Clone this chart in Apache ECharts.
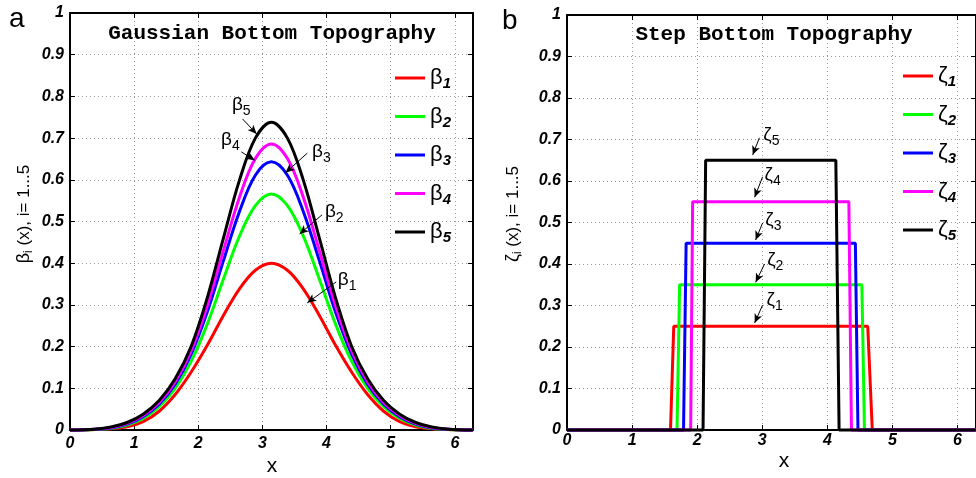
<!DOCTYPE html>
<html>
<head>
<meta charset="utf-8">
<script src="https://cdn.jsdelivr.net/npm/echarts@6/dist/echarts.min.js"></script>
<style>
  html, body { margin: 0; padding: 0; background: #fff; }
  #main { width: 976px; height: 478px; }
</style>
</head>
<body>
<div id="main"></div>
<script>
// ---- data ----
var xMax = 6.2832;

var gaussX = [0, 0.39, 0.64, 0.89, 1.14, 1.39, 1.64, 1.89, 2.14, 2.39, 2.64, 2.89, 3.14,
              3.39, 3.64, 3.89, 4.14, 4.39, 4.64, 4.89, 5.14, 5.39, 5.64, 5.89, 6.28];
var beta1 = [0, 0.001, 0.003, 0.008, 0.020, 0.045, 0.085, 0.139, 0.203, 0.274, 0.338, 0.383, 0.400,
             0.383, 0.338, 0.274, 0.203, 0.139, 0.085, 0.045, 0.020, 0.008, 0.003, 0.001, 0];
var beta2 = [0, 0.001, 0.004, 0.012, 0.028, 0.056, 0.100, 0.165, 0.254, 0.361, 0.464, 0.538, 0.566,
             0.538, 0.464, 0.361, 0.254, 0.165, 0.100, 0.056, 0.028, 0.012, 0.004, 0.001, 0];
var beta3 = [0, 0.002, 0.005, 0.014, 0.032, 0.062, 0.110, 0.182, 0.283, 0.405, 0.523, 0.611, 0.643,
             0.611, 0.523, 0.405, 0.283, 0.182, 0.110, 0.062, 0.032, 0.014, 0.005, 0.002, 0];
var beta4 = [0, 0.002, 0.006, 0.016, 0.035, 0.066, 0.116, 0.191, 0.298, 0.429, 0.557, 0.651, 0.686,
             0.651, 0.557, 0.429, 0.298, 0.191, 0.116, 0.066, 0.035, 0.016, 0.006, 0.002, 0];
var beta5 = [0, 0.002, 0.007, 0.018, 0.038, 0.071, 0.123, 0.201, 0.317, 0.459, 0.598, 0.700, 0.738,
             0.700, 0.598, 0.459, 0.317, 0.201, 0.123, 0.071, 0.038, 0.018, 0.007, 0.002, 0];

var zeta1X = [0, 1.59, 1.64, 4.62, 4.69, 6.28];
var zeta1Y = [0, 0, 0.25, 0.25, 0, 0];
var zeta2X = [0, 1.69, 1.73, 4.53, 4.57, 6.28];
var zeta2Y = [0, 0, 0.35, 0.35, 0, 0];
var zeta3X = [0, 1.79, 1.83, 4.43, 4.47, 6.28];
var zeta3Y = [0, 0, 0.45, 0.45, 0, 0];
var zeta4X = [0, 1.90, 1.93, 4.33, 4.37, 6.28];
var zeta4Y = [0, 0, 0.55, 0.55, 0, 0];
var zeta5X = [0, 2.09, 2.13, 4.13, 4.18, 6.28];
var zeta5Y = [0, 0, 0.65, 0.65, 0, 0];

var colors = ['#ff0000', '#00ff00', '#0000ff', '#ff00ff', '#000000'];
var betaNames = ['β1', 'β2', 'β3', 'β4', 'β5'];
var zetaNames = ['ζ1', 'ζ2', 'ζ3', 'ζ4', 'ζ5'];

// annotation labels and arrows, in data units
var betaTags = [[4.32, 0.360], [4.12, 0.523], [3.92, 0.667], [2.50, 0.695], [2.67, 0.779]];
var betaArrows = [
  [[4.15, 0.355], [3.70, 0.305]],
  [[3.93, 0.516], [3.58, 0.470]],
  [[3.70, 0.664], [3.36, 0.617]],
  [[2.67, 0.667], [2.88, 0.647]],
  [[2.69, 0.746], [2.91, 0.710]]
];
var zetaTags = [[3.19, 0.313], [3.20, 0.410], [3.17, 0.506], [3.16, 0.614], [3.14, 0.711]];
var zetaArrows = [
  [[3.005, 0.301], [2.883, 0.258]],
  [[3.035, 0.400], [2.898, 0.356]],
  [[3.005, 0.499], [2.898, 0.458]],
  [[3.005, 0.610], [2.883, 0.561]],
  [[2.955, 0.704], [2.853, 0.663]]
];

var zip = function (xs, ys) { return xs.map(function (x, i) { return [x, ys[i]]; }); };

var SANS = '"Liberation Sans", Arial, Helvetica, sans-serif';
var tickFont = { color: '#000', fontFamily: SANS, fontSize: 16, fontWeight: 'bold', fontStyle: 'italic' };

var greekRich = {
  g: { fontFamily: SANS, fontSize: 22, color: '#000', verticalAlign: 'middle' },
  n: { fontFamily: SANS, fontSize: 15, fontWeight: 'bold', fontStyle: 'italic', color: '#000',
       padding: [12, 0, 0, 0], verticalAlign: 'middle' }
};
var tagRich = {
  g: { fontFamily: SANS, fontSize: 19, color: '#000', verticalAlign: 'middle' },
  n: { fontFamily: SANS, fontSize: 14, color: '#000', padding: [12, 0, 0, 0], verticalAlign: 'middle' }
};

function boxAxes(kind, grid) {
  var main = {
    gridIndex: grid, type: 'value', min: 0, max: kind === 'x' ? xMax : 1,
    interval: kind === 'x' ? 1 : 0.1,
    axisLine: { show: true, onZero: false, lineStyle: { color: '#000', width: 2 } },
    axisTick: { show: true, inside: true, length: 5, lineStyle: { color: '#000', width: 1 } },
    splitLine: { show: true, lineStyle: { color: '#9a9a9a', width: 1, type: [1, 3] } },
    axisLabel: Object.assign({ margin: kind === 'x' ? (grid === 0 ? 6 : 3) : 6, showMaxLabel: kind !== 'x' }, tickFont)
  };
  var twin = {
    gridIndex: grid, type: 'value', min: 0, max: kind === 'x' ? xMax : 1,
    interval: kind === 'x' ? 1 : 0.1,
    position: kind === 'x' ? 'top' : 'right',
    axisLine: { show: true, onZero: false, lineStyle: { color: '#000', width: 2 } },
    axisTick: { show: true, inside: true, length: 5, lineStyle: { color: '#000', width: 1 } },
    splitLine: { show: false },
    axisLabel: { show: false }
  };
  return [main, twin];
}

var series = [];
var betaData = [beta1, beta2, beta3, beta4, beta5];
betaData.forEach(function (ys, i) {
  series.push({
    name: betaNames[i], type: 'line', xAxisIndex: 0, yAxisIndex: 0,
    data: zip(gaussX, ys), smooth: 0.35, showSymbol: false, symbol: 'none', clip: false,
    lineStyle: { color: colors[i], width: 3 }, itemStyle: { color: colors[i] },
    markLine: {
      silent: true, symbol: ['none', 'arrow'], symbolSize: [6, 9], animation: false,
      lineStyle: { color: '#000', width: 1, type: 'solid' }, label: { show: false },
      data: [[{ coord: betaArrows[i][0] }, { coord: betaArrows[i][1] }]]
    },
    markPoint: {
      silent: true, symbol: 'circle', symbolSize: 0, animation: false,
      label: { show: true, position: 'inside', formatter: '{g|β}{n|' + (i + 1) + '}', rich: tagRich },
      data: [{ coord: betaTags[i] }]
    }
  });
});
var zetaData = [[zeta1X, zeta1Y], [zeta2X, zeta2Y], [zeta3X, zeta3Y], [zeta4X, zeta4Y], [zeta5X, zeta5Y]];
zetaData.forEach(function (d, i) {
  series.push({
    name: zetaNames[i], type: 'line', xAxisIndex: 2, yAxisIndex: 2,
    data: zip(d[0], d[1]), showSymbol: false, symbol: 'none', clip: false,
    lineStyle: { color: colors[i], width: 3 }, itemStyle: { color: colors[i] },
    markLine: {
      silent: true, symbol: ['none', 'arrow'], symbolSize: [6, 9], animation: false,
      lineStyle: { color: '#000', width: 1, type: 'solid' }, label: { show: false },
      data: [[{ coord: zetaArrows[i][0] }, { coord: zetaArrows[i][1] }]]
    },
    markPoint: {
      silent: true, symbol: 'circle', symbolSize: 0, animation: false,
      label: { show: true, position: 'inside', formatter: '{g|ζ}{n|' + (i + 1) + '}', rich: tagRich },
      data: [{ coord: zetaTags[i] }]
    }
  });
});

function legendFor(names, left, top, letter) {
  return {
    data: names, orient: 'vertical', left: left, top: top,
    itemWidth: 30, itemHeight: 3, itemGap: 14, icon: 'rect',
    selectedMode: false,
    formatter: function (name) { return '{g|' + letter + '}{n|' + name.slice(1) + '}'; },
    textStyle: { rich: greekRich }
  };
}

var titleFont = { fontFamily: '"Courier New", "Liberation Mono", monospace', fontSize: 21, fontWeight: 'bold', color: '#000' };
var yName = function (letter) {
  return '{g|' + letter + '}{s|i}{t| (x), i= 1...5}';
};
var yNameRich = {
  g: { fontFamily: SANS, fontSize: 18, fill: '#000', verticalAlign: 'middle' },
  s: { fontFamily: SANS, fontSize: 12, fill: '#000', padding: [10, 0, 0, 0], verticalAlign: 'middle' },
  t: { fontFamily: SANS, fontSize: 17, fill: '#000', verticalAlign: 'middle' }
};

var chart = echarts.init(document.getElementById('main'), null, { renderer: 'canvas' });
var option = {
  animation: false,
  backgroundColor: '#fff',
  title: [
    { text: 'Gaussian Bottom Topography', left: 267, top: 18, textAlign: 'center', textStyle: titleFont },
    { text: 'Step Bottom Topography', left: 769, top: 19, textAlign: 'center', textStyle: titleFont },
    { text: 'a', left: 4, top: 0, textStyle: { fontFamily: SANS, fontSize: 28, fontWeight: 'normal', color: '#000' } },
    { text: 'b', left: 497, top: 2, textStyle: { fontFamily: SANS, fontSize: 28, fontWeight: 'normal', color: '#000' } }
  ],
  legend: [
    legendFor(betaNames, 390, 62, 'β'),
    legendFor(zetaNames, 898, 60, 'ζ')
  ],
  grid: [
    { left: 70, top: 13, width: 403, height: 417 },
    { left: 567, top: 15, width: 415, height: 415 }
  ],
  xAxis: boxAxes('x', 0).concat(boxAxes('x', 1)),
  yAxis: boxAxes('y', 0).concat(boxAxes('y', 1)),
  series: series,
  graphic: [
    { type: 'text', x: 24, y: 214, rotation: Math.PI / 2,
      style: { text: yName('β'), rich: yNameRich, align: 'center', verticalAlign: 'middle',
               textAlign: 'center', textVerticalAlign: 'middle', fill: '#000' } },
    { type: 'text', x: 513, y: 214, rotation: Math.PI / 2,
      style: { text: yName('ζ'), rich: yNameRich, align: 'center', verticalAlign: 'middle',
               textAlign: 'center', textVerticalAlign: 'middle', fill: '#000' } },
    { type: 'text', x: 272, y: 466,
      style: { text: 'x', font: '21px ' + SANS, align: 'center', verticalAlign: 'middle',
               textAlign: 'center', textVerticalAlign: 'middle', fill: '#000' } },
    { type: 'text', x: 784, y: 461,
      style: { text: 'x', font: '21px ' + SANS, align: 'center', verticalAlign: 'middle',
               textAlign: 'center', textVerticalAlign: 'middle', fill: '#000' } }
  ]
};
chart.setOption(option);
</script>
</body>
</html>
